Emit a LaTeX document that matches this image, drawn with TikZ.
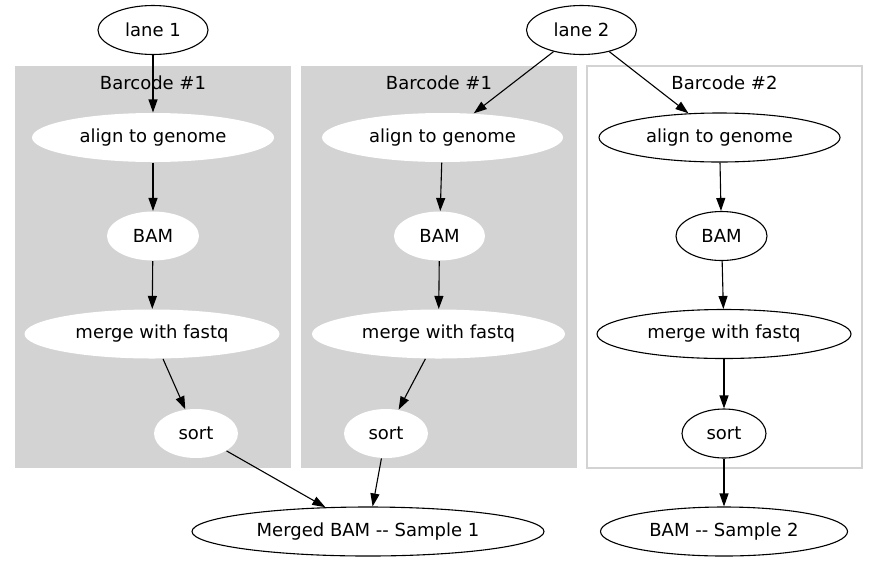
\documentclass[tikz,border=0pt]{standalone}
\usepackage{fontspec}
\setmainfont{DejaVu Sans}
\usepackage{tikz}
\usetikzlibrary{shapes.geometric,arrows.meta}
\definecolor{clustergray}{HTML}{D3D3D3}

\begin{document}
\begin{tikzpicture}[x=1pt, y=-1pt, font=\fontsize{18}{21.6}\selectfont,
	job/.style={ellipse, draw, line width=1.1pt, inner sep=0pt, minimum height=49pt},
	injob/.style={job, draw=none, fill=white},
	flow/.style={line width=1.1pt, -{Stealth[inset=0pt, length=13pt, width=9pt]}}]

	\useasboundingbox (0,0) rectangle (877,563);

	\fill[clustergray] (15,66) rectangle (291,468);
	\fill[clustergray] (301,66) rectangle (577,468);
	\draw[clustergray, line width=1.1pt] (587,66) rectangle (862,468);
	\foreach \cx/\bc in {153/1, 439/1, 724.5/2}
		\node at (\cx,83) {Barcode \#\bc};


	\node[job, minimum width=110pt] (lane1) at (153,30) {lane 1};
	\node[job, minimum width=110pt] (lane2) at (581.5,30) {lane 2};

	\node[injob, minimum width=242pt] (align1) at (153,137.5) {align to genome};
	\node[injob, minimum width=92pt] (bam1) at (153,236) {BAM};
	\node[injob, minimum width=255pt] (merge1) at (152,334) {merge with fastq};
	\node[injob, minimum width=84pt] (sort1) at (196,433.5) {sort};

	\node[injob, minimum width=241pt] (align2) at (442.5,137.5) {align to genome};
	\node[injob, minimum width=91pt] (bam2) at (439.5,236) {BAM};
	\node[injob, minimum width=253pt] (merge2) at (438.5,334) {merge with fastq};
	\node[injob, minimum width=84pt] (sort2) at (386,433.5) {sort};

	\node[job, minimum width=241pt] (align3) at (719.5,137.5) {align to genome};
	\node[job, minimum width=91pt] (bam3) at (721.5,236) {BAM};
	\node[job, minimum width=254pt] (merge3) at (724,334) {merge with fastq};
	\node[job, minimum width=84pt] (sort3) at (724,433.5) {sort};

	\node[job, minimum width=352pt] (merged) at (368,531.5) {Merged BAM -{}- Sample 1};
	\node[job, minimum width=247pt] (sample2) at (724,531.5) {BAM -{}- Sample 2};


	\draw[flow] (lane1) -- (align1);
	\draw[flow] (lane2) -- (align2);
	\draw[flow] (lane2) -- (align3);
	\foreach \c in {1,2,3} {
		\draw[flow] (align\c) -- (bam\c);
		\draw[flow] (bam\c) -- (merge\c);
		\draw[flow] (merge\c) -- (sort\c);
	}
	\draw[flow] (sort1) -- (merged);
	\draw[flow] (sort2) -- (merged);
	\draw[flow] (sort3) -- (sample2);


\end{tikzpicture}
\end{document}
